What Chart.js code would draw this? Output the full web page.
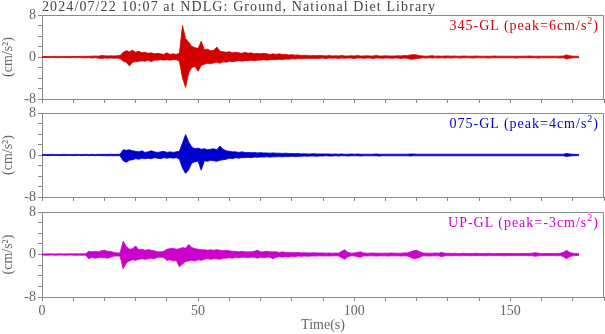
<!DOCTYPE html>
<html lang="en">
<head>
    <meta charset="UTF-8">
    <title>NDLG acceleration record</title>
    <script src="https://cdn.jsdelivr.net/npm/chart.js"></script>
    <style>
        body { margin: 0; background: #fff; }
        #wrap { position: relative; width: 605px; height: 334px; font-family: "Liberation Serif", "DejaVu Serif", serif; }
        canvas { position: absolute; left: 0; }
        .txt { position: absolute; white-space: nowrap; }
        .title { left: 42px; top: -1px; font-size: 14px; color: #444; letter-spacing: 1.1px; }
        .comp { right: 6px; font-size: 14px; letter-spacing: 1px; }
    </style>
</head>
<body>
<div id="wrap">
    <canvas id="c345" width="605" height="106" style="top:0px"></canvas>
    <canvas id="c075" width="605" height="106" style="top:98px"></canvas>
    <canvas id="cUP" width="605" height="137" style="top:197px"></canvas>
    <div class="txt title">2024/07/22 10:07 at NDLG: Ground, National Diet Library</div>
    <div class="txt comp" style="top:15px;color:#d40000">345-GL (peak=6cm/s<sup style="font-size:10px">2</sup>)</div>
    <div class="txt comp" style="top:113px;color:#0000cc">075-GL (peak=4cm/s<sup style="font-size:10px">2</sup>)</div>
    <div class="txt comp" style="top:212px;color:#cc00cc">UP-GL (peak=-3cm/s<sup style="font-size:10px">2</sup>)</div>
</div>
<script>
    // envelope of each trace, one value per second from t=0 to t=172 s (cm/s2)
    const acc345Up = [
        0.1,0.12,0.1,0.1,0.12,0.1,0.1,0.12,0.1,0.1,
        0.12,0.1,0.12,0.15,0.12,0.15,0.15,0.2,0.15,0.3,
        0.25,0.2,0.25,0.2,0.25,0.3,0.9,1.2,1.0,1.3,
        0.9,1.1,0.8,0.9,0.7,0.8,0.6,0.7,0.6,0.5,
        0.8,0.5,0.6,0.5,0.7,6.0,3.5,2.8,2.0,1.8,
        1.6,3.0,1.4,1.5,1.2,1.3,1.9,1.1,1.0,0.9,
        1.0,0.8,0.9,0.8,0.7,0.9,0.7,0.8,0.6,0.7,
        0.6,0.7,0.6,0.5,0.6,0.5,0.6,0.5,0.5,0.4,
        0.45,0.35,0.4,0.3,0.35,0.3,0.25,0.3,0.25,0.3,
        0.25,0.2,0.3,0.2,0.25,0.2,0.3,0.2,0.2,0.25,
        0.2,0.3,0.2,0.2,0.25,0.2,0.2,0.3,0.2,0.2,
        0.25,0.2,0.2,0.2,0.25,0.2,0.3,0.25,0.4,0.45,
        0.4,0.25,0.2,0.15,0.2,0.25,0.15,0.2,0.15,0.2,
        0.2,0.15,0.2,0.15,0.15,0.2,0.15,0.15,0.15,0.2,
        0.15,0.15,0.15,0.15,0.15,0.2,0.15,0.15,0.15,0.15,
        0.15,0.15,0.15,0.15,0.15,0.15,0.2,0.15,0.15,0.15,
        0.15,0.15,0.15,0.15,0.15,0.15,0.15,0.2,0.4,0.25,
        0.15,0.15,0.1
    ];
    const acc345Lo = [
        -0.1,-0.1,-0.12,-0.1,-0.1,-0.12,-0.1,-0.1,-0.1,-0.12,
        -0.1,-0.12,-0.1,-0.15,-0.15,-0.12,-0.2,-0.15,-0.2,-0.3,
        -0.2,-0.25,-0.2,-0.25,-0.2,-0.3,-0.8,-1.0,-1.7,-1.0,
        -0.9,-0.8,-0.7,-0.8,-0.6,-0.9,-0.6,-0.6,-0.5,-0.6,
        -0.5,-0.6,-0.5,-0.5,-0.8,-4.0,-5.8,-3.0,-2.0,-1.8,
        -2.7,-1.6,-1.4,-1.2,-1.3,-1.1,-1.0,-1.2,-0.9,-1.0,
        -0.8,-0.9,-0.8,-0.7,-0.8,-0.7,-0.7,-0.6,-0.7,-0.6,
        -0.6,-0.5,-0.6,-0.5,-0.5,-0.5,-0.45,-0.5,-0.4,-0.45,
        -0.35,-0.4,-0.3,-0.35,-0.3,-0.25,-0.3,-0.25,-0.3,-0.25,
        -0.2,-0.3,-0.2,-0.25,-0.2,-0.3,-0.2,-0.25,-0.2,-0.2,
        -0.3,-0.2,-0.2,-0.25,-0.2,-0.2,-0.3,-0.2,-0.2,-0.25,
        -0.2,-0.2,-0.25,-0.2,-0.2,-0.3,-0.2,-0.25,-0.45,-0.4,
        -0.3,-0.25,-0.15,-0.2,-0.15,-0.2,-0.15,-0.2,-0.15,-0.2,
        -0.15,-0.2,-0.15,-0.15,-0.2,-0.15,-0.15,-0.15,-0.2,-0.15,
        -0.15,-0.15,-0.15,-0.2,-0.15,-0.15,-0.15,-0.15,-0.15,-0.15,
        -0.15,-0.15,-0.2,-0.15,-0.15,-0.15,-0.15,-0.15,-0.15,-0.2,
        -0.15,-0.15,-0.15,-0.15,-0.15,-0.15,-0.2,-0.15,-0.4,-0.25,
        -0.15,-0.15,-0.1
    ];
    const acc075Up = [
        0.1,0.1,0.1,0.12,0.1,0.1,0.1,0.12,0.1,0.1,
        0.1,0.12,0.1,0.1,0.12,0.1,0.12,0.1,0.12,0.12,
        0.12,0.12,0.15,0.12,0.15,0.15,1.0,0.9,1.0,0.8,
        0.7,0.6,0.8,0.5,0.6,0.8,0.6,0.5,0.6,0.7,
        0.5,0.6,0.5,0.6,0.7,2.3,3.9,2.5,1.5,1.2,
        1.3,1.1,1.2,1.0,1.1,1.2,1.0,1.7,1.1,0.8,
        0.7,0.6,0.6,0.5,0.6,0.5,0.5,0.45,0.5,0.4,
        0.45,0.4,0.4,0.35,0.4,0.35,0.35,0.3,0.35,0.3,
        0.3,0.25,0.3,0.2,0.25,0.2,0.2,0.25,0.2,0.2,
        0.2,0.2,0.2,0.15,0.2,0.15,0.2,0.15,0.15,0.2,
        0.15,0.2,0.15,0.15,0.15,0.15,0.15,0.2,0.15,0.15,
        0.15,0.15,0.15,0.15,0.15,0.15,0.15,0.15,0.2,0.2,
        0.15,0.15,0.15,0.15,0.15,0.15,0.15,0.15,0.15,0.15,
        0.15,0.15,0.15,0.15,0.15,0.15,0.15,0.15,0.15,0.15,
        0.15,0.15,0.15,0.15,0.15,0.15,0.15,0.15,0.15,0.15,
        0.15,0.15,0.15,0.15,0.15,0.15,0.15,0.15,0.15,0.15,
        0.15,0.15,0.15,0.15,0.15,0.15,0.15,0.15,0.3,0.2,
        0.15,0.12,0.1
    ];
    const acc075Lo = [
        -0.1,-0.1,-0.12,-0.1,-0.1,-0.1,-0.12,-0.1,-0.1,-0.1,
        -0.12,-0.1,-0.1,-0.12,-0.1,-0.12,-0.1,-0.12,-0.1,-0.12,
        -0.12,-0.15,-0.12,-0.15,-0.12,-0.15,-1.1,-1.4,-1.0,-0.9,
        -0.7,-0.8,-0.6,-0.7,-0.6,-0.7,-0.5,-0.6,-0.7,-0.5,
        -0.6,-0.5,-0.6,-0.5,-0.8,-2.5,-3.5,-2.8,-1.5,-1.3,
        -1.2,-2.9,-1.1,-1.2,-1.0,-1.1,-1.2,-1.0,-0.9,-0.8,
        -0.6,-0.7,-0.5,-0.6,-0.5,-0.5,-0.45,-0.5,-0.4,-0.45,
        -0.4,-0.4,-0.35,-0.4,-0.35,-0.35,-0.3,-0.35,-0.3,-0.3,
        -0.25,-0.3,-0.25,-0.25,-0.2,-0.25,-0.2,-0.2,-0.25,-0.2,
        -0.2,-0.15,-0.2,-0.2,-0.15,-0.2,-0.15,-0.15,-0.2,-0.15,
        -0.15,-0.15,-0.2,-0.15,-0.15,-0.15,-0.15,-0.15,-0.2,-0.15,
        -0.15,-0.15,-0.15,-0.15,-0.15,-0.15,-0.15,-0.15,-0.2,-0.15,
        -0.15,-0.15,-0.15,-0.15,-0.15,-0.15,-0.15,-0.15,-0.15,-0.15,
        -0.15,-0.15,-0.15,-0.15,-0.15,-0.15,-0.15,-0.15,-0.15,-0.15,
        -0.15,-0.15,-0.15,-0.15,-0.15,-0.15,-0.15,-0.15,-0.15,-0.15,
        -0.15,-0.15,-0.15,-0.15,-0.15,-0.15,-0.15,-0.15,-0.15,-0.15,
        -0.15,-0.15,-0.15,-0.15,-0.15,-0.15,-0.15,-0.15,-0.3,-0.2,
        -0.15,-0.12,-0.1
    ];
    const accUPUp = [
        0.12,0.1,0.12,0.12,0.1,0.12,0.12,0.1,0.12,0.12,
        0.12,0.12,0.15,0.12,0.15,0.6,0.5,0.6,0.5,0.7,
        0.8,0.6,0.6,0.4,0.3,0.3,2.5,1.5,1.0,1.1,
        1.6,0.9,1.0,0.8,0.9,0.8,0.7,0.5,0.5,0.6,
        1.0,1.1,1.2,1.0,1.1,1.3,1.2,1.9,1.3,1.1,
        1.0,0.9,0.9,0.8,0.9,0.8,0.9,0.8,0.7,0.8,
        0.7,0.6,0.6,0.5,0.6,0.5,0.5,0.5,0.6,0.8,
        0.5,0.5,0.6,0.5,0.5,0.5,0.4,0.5,0.4,0.4,
        0.4,0.35,0.4,0.3,0.35,0.3,0.3,0.35,0.3,0.3,
        0.3,0.25,0.3,0.25,0.3,0.25,0.6,0.9,0.4,0.25,
        0.3,0.4,0.5,0.3,0.25,0.25,0.3,0.25,0.25,0.25,
        0.25,0.25,0.3,0.25,0.25,0.25,0.3,0.3,0.5,0.7,
        0.8,0.5,0.3,0.25,0.25,0.25,0.3,0.25,0.4,0.25,
        0.25,0.2,0.25,0.2,0.2,0.25,0.2,0.2,0.2,0.25,
        0.2,0.2,0.2,0.25,0.2,0.2,0.2,0.2,0.2,0.2,
        0.2,0.2,0.2,0.2,0.2,0.2,0.2,0.25,0.35,0.25,
        0.2,0.2,0.2,0.2,0.2,0.2,0.25,0.4,0.8,0.4,
        0.25,0.2,0.15
    ];
    const accUPLo = [
        -0.1,-0.12,-0.12,-0.1,-0.12,-0.12,-0.1,-0.12,-0.12,-0.1,
        -0.12,-0.15,-0.12,-0.15,-0.12,-0.8,-0.5,-0.7,-0.6,-0.5,
        -0.6,-0.7,-0.5,-0.3,-0.3,-0.3,-2.7,-1.6,-1.2,-1.0,
        -1.1,-0.9,-0.8,-0.9,-0.8,-0.7,-0.8,-0.5,-0.5,-0.6,
        -1.1,-1.0,-1.2,-1.1,-2.3,-1.8,-1.3,-1.2,-1.1,-1.2,
        -1.0,-1.1,-0.9,-0.8,-0.9,-0.8,-0.8,-0.9,-0.7,-0.7,
        -0.6,-0.7,-0.5,-0.6,-0.5,-0.5,-0.6,-0.5,-0.5,-0.7,
        -0.5,-0.6,-0.5,-0.5,-0.8,-0.5,-0.4,-0.5,-0.4,-0.45,
        -0.35,-0.4,-0.3,-0.35,-0.3,-0.35,-0.3,-0.3,-0.3,-0.25,
        -0.3,-0.25,-0.3,-0.25,-0.25,-0.3,-0.6,-0.9,-0.4,-0.25,
        -0.25,-0.4,-0.5,-0.25,-0.3,-0.25,-0.25,-0.3,-0.25,-0.25,
        -0.25,-0.3,-0.25,-0.25,-0.25,-0.3,-0.25,-0.3,-0.5,-0.8,
        -0.7,-0.5,-0.25,-0.25,-0.3,-0.25,-0.25,-0.25,-0.4,-0.25,
        -0.2,-0.25,-0.2,-0.2,-0.25,-0.2,-0.2,-0.25,-0.2,-0.2,
        -0.2,-0.2,-0.25,-0.2,-0.2,-0.2,-0.2,-0.2,-0.25,-0.2,
        -0.2,-0.2,-0.2,-0.2,-0.2,-0.2,-0.25,-0.2,-0.35,-0.25,
        -0.2,-0.2,-0.2,-0.2,-0.2,-0.25,-0.2,-0.4,-0.8,-0.4,
        -0.25,-0.2,-0.15
    ];

    const yTickLabels = [-8, 0, 8];
    const xTickLabels = [0, 50, 100, 150];

    const axisGray = "#8a8a8a";
    const textGray = "#666";
    const serif = "'Liberation Serif', 'DejaVu Serif', serif";

    // top and right edges of each panel box
    const boxPlugin = {
        id: "box",
        afterDraw(chart) {
            const a = chart.chartArea;
            const ctx = chart.ctx;
            ctx.save();
            ctx.strokeStyle = axisGray;
            ctx.lineWidth = 1;
            ctx.beginPath();
            ctx.moveTo(a.left, Math.round(a.top) + 0.5);
            ctx.lineTo(Math.round(a.right) - 0.5, Math.round(a.top) + 0.5);
            ctx.lineTo(Math.round(a.right) - 0.5, a.bottom);
            ctx.stroke();
            ctx.restore();
        }
    };

    function toPoints(arr) {
        return arr.map((v, i) => ({ x: i, y: v }));
    }

    function makePanel(id, up, lo, color, withXLabels, xAxisHeight) {
        new Chart(document.getElementById(id), {
            type: "line",
            data: {
                datasets: [
                    { data: toPoints(up), borderColor: color, backgroundColor: color, borderWidth: 0.8, pointRadius: 0, fill: "+1" },
                    { data: toPoints(lo), borderColor: color, backgroundColor: color, borderWidth: 0.8, pointRadius: 0, fill: false }
                ]
            },
            options: {
                responsive: false,
                animation: false,
                layout: { padding: { top: 15, right: 1, left: 0, bottom: 0 } },
                plugins: { legend: { display: false }, tooltip: { enabled: false } },
                scales: {
                    x: {
                        type: "linear", min: 0, max: 180,
                        afterFit: s => { s.height = xAxisHeight; s.paddingLeft = 0; s.paddingRight = 0; },
                        ticks: {
                            stepSize: 10, autoSkip: false, maxRotation: 0, padding: 2,
                            color: textGray, font: { family: serif, size: 14 },
                            callback: v => (withXLabels && xTickLabels.includes(v)) ? String(v) : ""
                        },
                        grid: { drawOnChartArea: false, tickLength: 4, color: axisGray },
                        border: { color: axisGray },
                        title: {
                            display: withXLabels, text: "Time(s)", color: textGray,
                            font: { family: serif, size: 14 }, padding: { top: 0, bottom: 0 }
                        }
                    },
                    y: {
                        min: -8, max: 8,
                        afterFit: s => { s.width = 42; s.paddingTop = 0; s.paddingBottom = 0; },
                        ticks: {
                            stepSize: 2, autoSkip: false, padding: 2,
                            color: textGray, font: { family: serif, size: 14 },
                            callback: v => yTickLabels.includes(v) ? String(v) : ""
                        },
                        grid: { drawOnChartArea: false, tickLength: 4, color: axisGray },
                        border: { color: axisGray },
                        title: {
                            display: true, text: "(cm/s²)", color: textGray,
                            font: { family: serif, size: 14 }, padding: 0
                        }
                    }
                }
            },
            plugins: [boxPlugin]
        });
    }

    makePanel("c345", acc345Up, acc345Lo, "#d40000", false, 7);
    makePanel("c075", acc075Up, acc075Lo, "#0000cc", false, 7);
    makePanel("cUP", accUPUp, accUPLo, "#cc00cc", true, 37);
</script>
</body>
</html>
